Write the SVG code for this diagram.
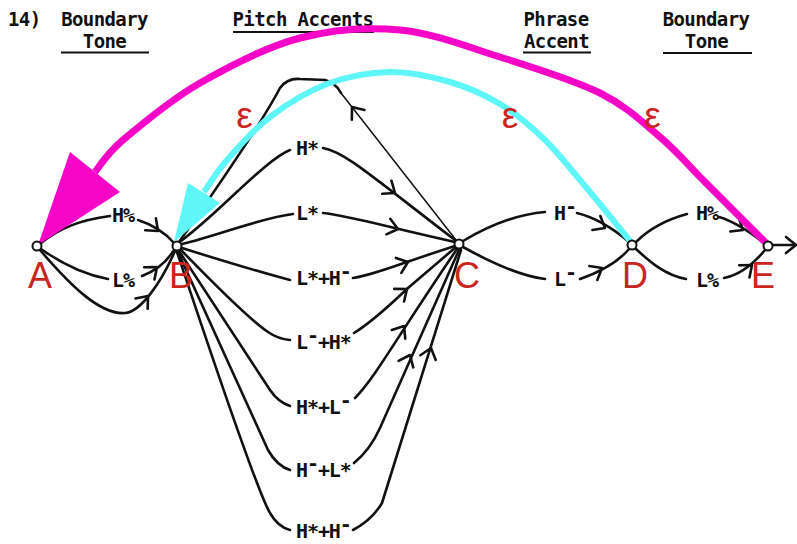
<svg xmlns="http://www.w3.org/2000/svg" xmlns:xlink="http://www.w3.org/1999/xlink" width="797" height="544" viewBox="0 0 797 544">
  <style>
    .hd { font-family: "DejaVu Sans Mono", "Liberation Mono", monospace; font-weight: bold; font-size: 19px; letter-spacing: -0.6px; fill: #111; }
    .tl { font-family: "DejaVu Sans Mono", "Liberation Mono", monospace; font-weight: bold; font-size: 20px; letter-spacing: -1.1px; fill: #111; }
    .ul { stroke: #111; stroke-width: 2; fill: none; }
    .edge { fill: none; stroke: #111; stroke-width: 2.6; stroke-linecap: round; stroke-linejoin: round; }
    .thin { fill: none; stroke: #111; stroke-width: 1.5; stroke-linecap: round; }
    .node { fill: #fff; stroke: #111; stroke-width: 2; }
    .nl { font-family: "Liberation Sans", Arial, sans-serif; font-size: 36px; fill: #c9261f; text-anchor: middle; }
    .eps { font-family: "Liberation Sans", Arial, sans-serif; font-size: 37px; fill: #c9261f; text-anchor: middle; }
    .mag { fill: none; stroke: #f806c8; stroke-width: 7; }
    .cyn { fill: none; stroke: #5ef6f6; stroke-width: 6; }
  </style>
  <defs>
    <path id="ah" d="M -10,-8 L 0,0 L -10,8" fill="none" stroke="#111" stroke-width="2.6" stroke-linecap="round" stroke-linejoin="round"/>
  </defs>
  <rect width="797" height="544" fill="#fff"/>

  <!-- column headings -->
  <g id="headings">
    <text class="hd" x="8" y="26">14)</text>
    <text class="hd" x="104.5" y="26" text-anchor="middle">Boundary</text>
    <text class="hd" x="104.5" y="48" text-anchor="middle">Tone</text>
    <line class="ul" x1="61" y1="52.5" x2="149" y2="52.5"/>
    <text class="hd" x="303" y="26" text-anchor="middle">Pitch Accents</text>
    <line class="ul" x1="233" y1="32" x2="374" y2="32"/>
    <text class="hd" x="556" y="26" text-anchor="middle">Phrase</text>
    <text class="hd" x="556.5" y="48" text-anchor="middle">Accent</text>
    <line class="ul" x1="523" y1="52.5" x2="591" y2="52.5"/>
    <text class="hd" x="706" y="26" text-anchor="middle">Boundary</text>
    <text class="hd" x="706.5" y="48" text-anchor="middle">Tone</text>
    <line class="ul" x1="663" y1="53" x2="752" y2="53"/>
  </g>

  <!-- transitions -->
  <g id="connectors">
    <!-- A to B -->
    <path class="edge" d="M 41,243 C 60,228 80,220 110,216"/>
    <path class="edge" d="M 138,220 Q 160,227 174,243"/>
    <path class="edge" d="M 41,249 Q 75,273 108,279"/>
    <path class="edge" d="M 142,276 Q 163,268 174,250"/>
    <path class="edge" d="M 40,250 C 70,285 100,315 125,313 C 140,312 160,285 175,251"/>
    <use xlink:href="#ah" transform="translate(158,231) rotate(42)"/>
    <use xlink:href="#ah" transform="translate(157,267) rotate(-40)"/>
    <use xlink:href="#ah" transform="translate(148,296) rotate(-50)"/>

    <!-- B to C -->
    <path class="edge" d="M 179,242 C 200,212 258,130 280,88 Q 287,78 300,79 L 325,80 Q 335,82 341,93"/>
    <path class="thin" d="M 341,93 L 456,240"/>
    <use xlink:href="#ah" transform="translate(352,107) rotate(-128)"/>

    <path class="edge" d="M 181,241 C 220,212 265,160 290,150"/>
    <path class="edge" d="M 323,148 C 345,152 370,175 455,240"/>
    <use xlink:href="#ah" transform="translate(395,193) rotate(35)"/>

    <path class="edge" d="M 182,244 C 220,235 260,218 293,214"/>
    <path class="edge" d="M 323,213 C 350,216 375,224 455,242"/>
    <use xlink:href="#ah" transform="translate(398,229) rotate(14)"/>

    <path class="edge" d="M 182,248 C 220,260 260,272 290,280"/>
    <path class="edge" d="M 353,278 C 375,275 395,265 455,246"/>
    <use xlink:href="#ah" transform="translate(408,262) rotate(-20)"/>

    <path class="edge" d="M 181,250 C 215,285 250,320 268,332 Q 278,339 290,340"/>
    <path class="edge" d="M 354,333 C 375,320 395,300 408,288 L 456,247"/>
    <use xlink:href="#ah" transform="translate(407,289) rotate(-38)"/>

    <path class="edge" d="M 179,251 L 270,390 Q 278,402 290,406"/>
    <path class="edge" d="M 355,398 C 375,378 395,340 457,249"/>
    <use xlink:href="#ah" transform="translate(404,326) rotate(-57)"/>

    <path class="edge" d="M 178,252 L 268,450 Q 277,466 290,470"/>
    <path class="edge" d="M 354,463 Q 370,450 380,428 L 459,250"/>
    <use xlink:href="#ah" transform="translate(410,355) rotate(-66)"/>

    <path class="edge" d="M 177,252 C 200,320 255,488 270,513 Q 278,527 290,530"/>
    <path class="edge" d="M 353,530 Q 372,520 382,503 L 461,250"/>
    <use xlink:href="#ah" transform="translate(431,348) rotate(-73)"/>

    <!-- C to D -->
    <path class="edge" d="M 463,241 C 490,225 520,214 545,212"/>
    <path class="edge" d="M 577,213 C 597,218 615,230 629,242"/>
    <use xlink:href="#ah" transform="translate(605,228) rotate(30)"/>
    <path class="edge" d="M 463,247 C 490,262 520,276 545,279"/>
    <path class="edge" d="M 580,279 C 600,272 618,262 629,249"/>
    <use xlink:href="#ah" transform="translate(602,268) rotate(-30)"/>

    <!-- D to E -->
    <path class="edge" d="M 636,242 C 650,228 665,220 687,214"/>
    <path class="edge" d="M 719,217 C 736,222 750,232 764,243"/>
    <use xlink:href="#ah" transform="translate(743,230) rotate(32)"/>
    <path class="edge" d="M 636,249 C 650,262 665,275 686,279"/>
    <path class="edge" d="M 724,278 C 740,275 755,262 765,250"/>
    <use xlink:href="#ah" transform="translate(752,265) rotate(-40)"/>

    <!-- exit from E -->
    <path class="edge" d="M 773,245 L 796,245"/>
    <use xlink:href="#ah" transform="translate(796,245)"/>

    <!-- epsilon arcs -->
    <path class="mag" d="M 767,244 C 756.7,233.7 722.8,199.8 705,182 C 687.2,164.2 677.5,151.8 660,137 C 642.5,122.2 626.7,106.3 600,93 C 573.3,79.7 533.3,67.5 500,57 C 466.7,46.5 433.3,33.2 400,30 C 366.7,26.8 333.3,29.2 300,38 C 266.7,46.8 229.5,66 200,83 C 170.5,100 140.5,125.2 123,140 C 105.5,154.8 99.7,166.7 95,172"/>
    <polygon points="70,152 120,192 38,245" fill="#f806c8"/>
    <path class="cyn" d="M 631,242 C 622.5,231.7 594.7,197.3 580,180 C 565.3,162.7 556.3,150.7 543,138 C 529.7,125.3 515.5,113.3 500,104 C 484.5,94.7 468.3,87.3 450,82 C 431.7,76.7 410.5,71.7 390,72 C 369.5,72.3 347,76.5 327,84 C 307,91.5 286.7,104.3 270,117 C 253.3,129.7 238,147.5 227,160 C 216,172.5 207.8,186.7 204,192"/>
    <polygon points="188,183 220,203 174,242" fill="#5ef6f6"/>
  </g>

  <!-- states -->
  <g id="node-A"><circle class="node" cx="37" cy="246" r="4.5"/><text class="nl" x="40" y="288">A</text></g>
  <g id="node-B"><circle class="node" cx="177" cy="246" r="4.5"/><text class="nl" x="181" y="288">B</text></g>
  <g id="node-C"><circle class="node" cx="459" cy="244" r="4.5"/><text class="nl" x="467" y="288">C</text></g>
  <g id="node-D"><circle class="node" cx="632" cy="245" r="4.5"/><text class="nl" x="635" y="288">D</text></g>
  <g id="node-E"><circle class="node" cx="768" cy="246" r="4.5"/><text class="nl" x="763" y="288">E</text></g>

  <!-- tone labels -->
  <g id="tone-labels">
    <text class="tl" x="112" y="222">H%</text>
    <text class="tl" x="112" y="287">L%</text>
    <text class="tl" x="296" y="155">H*</text>
    <text class="tl" x="296" y="220">L*</text>
    <text class="tl" x="296" y="285">L*+H<tspan dy="-7.5">-</tspan></text>
    <text class="tl" x="296" y="349">L<tspan dy="-7.5">-</tspan><tspan dy="7.5">+H*</tspan></text>
    <text class="tl" x="296" y="414">H*+L<tspan dy="-7.5">-</tspan></text>
    <text class="tl" x="296" y="477">H<tspan dy="-7.5">-</tspan><tspan dy="7.5">+L*</tspan></text>
    <text class="tl" x="296" y="538">H*+H<tspan dy="-7.5">-</tspan></text>
    <text class="tl" x="554" y="220">H<tspan dy="-7.5">-</tspan></text>
    <text class="tl" x="554" y="286">L<tspan dy="-7.5">-</tspan></text>
    <text class="tl" x="696" y="220">H%</text>
    <text class="tl" x="696" y="287">L%</text>
  </g>

  <!-- epsilon labels -->
  <g id="epsilon-labels">
    <text class="eps" x="244.5" y="128">ε</text>
    <text class="eps" x="510" y="128">ε</text>
    <text class="eps" x="652.5" y="128">ε</text>
  </g>
</svg>
